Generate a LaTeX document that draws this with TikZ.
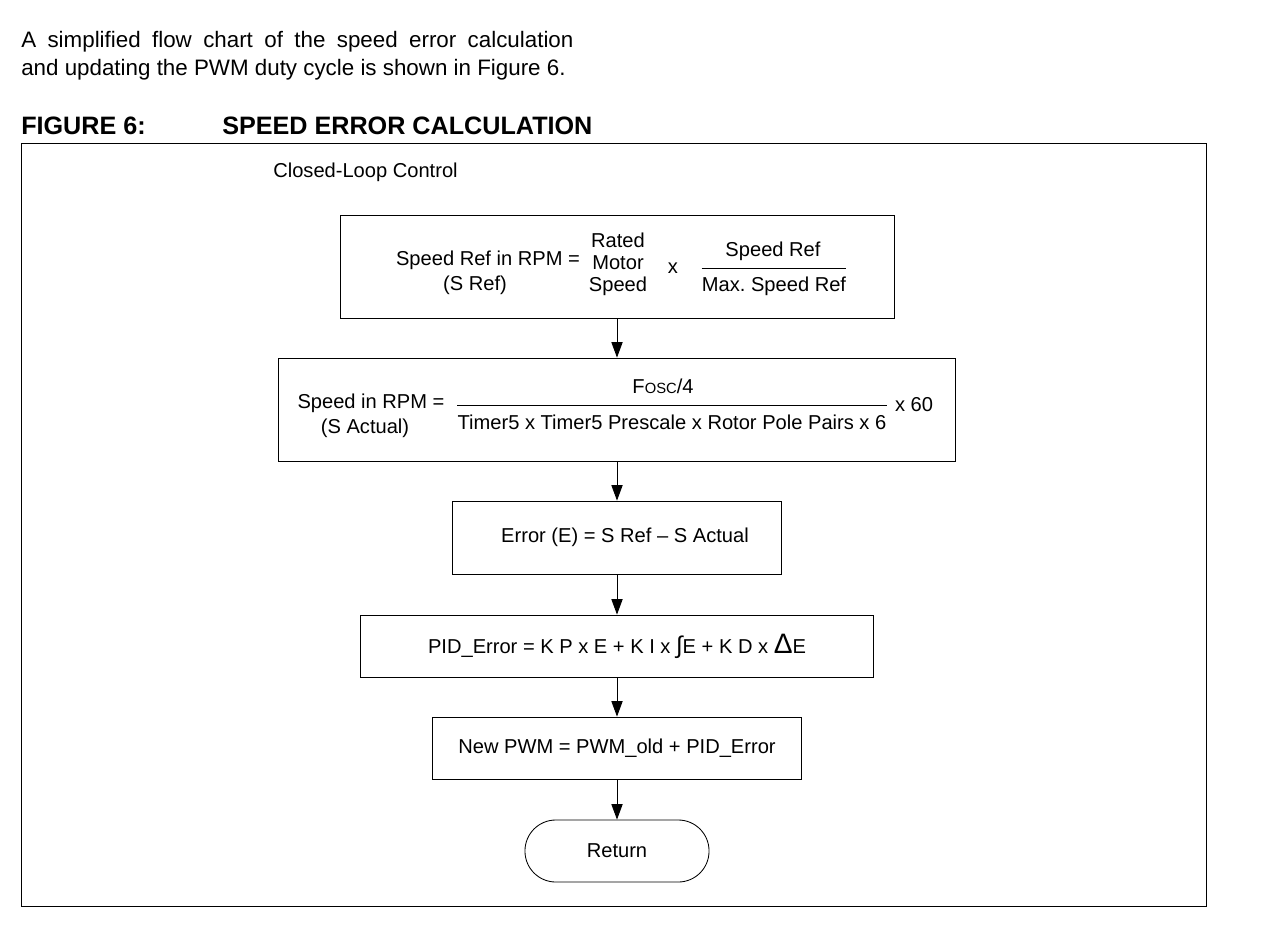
\documentclass[tikz,border=0pt]{standalone}
\usepackage{fontspec}
\setmainfont{Liberation Sans}
\usetikzlibrary{arrows.meta, positioning}
\frenchspacing

\begin{document}
\begin{tikzpicture}
[x = 0.025cm, y = -0.025cm, font = \fontsize{14.3}{17}\selectfont,
 box/.style = {rectangle, draw=black, line width=0.6pt, fill=white},
 txt/.style = {inner sep=0pt},
 >={Triangle[length=11pt, width=8pt]}]
\useasboundingbox (0,0) rectangle (1280,940);

\node[txt, anchor=north west, text width=13.8cm, align=justify, font=\fontsize{15.9}{19.9}\selectfont] (intro) at (21,31) {A simplified flow chart of the speed error calculation\linebreak and updating the PWM duty cycle is shown in Figure 6.};
\node[txt, anchor=base west, font=\fontsize{17.9}{20}\selectfont\bfseries] (fig) at (21,134) {FIGURE 6:};
\node[txt, anchor=base west, font=\fontsize{17.9}{20}\selectfont\bfseries] (title) at (222,134) {SPEED ERROR CALCULATION};
\draw[line width=0.6pt] (21,143) rectangle (1206,906);
\node[txt, anchor=base west] (loop) at (273,177) {Closed-Loop Control};

\node[box, minimum width=13.85cm, minimum height=2.575cm] (n1) at (617,266.5) {};
\node[box, minimum width=16.9cm, minimum height=2.575cm] (n2) at (617,409.5) {};
\node[box, minimum width=8.225cm, minimum height=1.825cm] (n3) at (617,537.5) {\hspace{0.4cm}Error (E) = S Ref – S Actual};
\node[box, minimum width=12.825cm, minimum height=1.55cm] (n4) at (617,646) {PID\_Error = K P x E + K I x {\fontsize{17}{17}\selectfont ∫}E + K D x {\fontsize{20}{20}\selectfont Δ}E};
\node[box, minimum width=9.225cm, minimum height=1.55cm] (n5) at (617,748) {New PWM = PWM\_old + PID\_Error};
\node[box, rounded corners=0.77cm, minimum width=4.6cm, minimum height=1.55cm] (n6) at (617,851) {Return};

% speed reference
\node[txt] (t1) at (488,260) {Speed Ref in RPM =};
\node[txt] (t2) at (475,285) {(S Ref)};
\node[txt, align=center, font=\fontsize{14.3}{15.6}\selectfont] (t3) at (618,264) {Rated\\Motor\\Speed};
\node[txt] (t4) at (673,268) {x};
\node[txt] (t5) at (773,251) {Speed Ref};
\node[txt] (t6) at (774,286) {Max. Speed Ref};
\coordinate (bar1) at (0,268);
\draw[line width=0.6pt] (t6.west |- bar1) -- (t6.east |- bar1);

% actual speed
\node[txt] (t7) at (371,403) {Speed in RPM =};
\node[txt] (t8) at (365,428) {(S Actual)};
\node[txt] (t9) at (663,386) {F{\fontsize{10.5}{12}\selectfont OSC}/4};
\node[txt] (t10) at (672,422) {Timer5 x Timer5 Prescale x Rotor Pole Pairs x 6};
\node[txt] (t11) at (914,405) {x 60};
\coordinate (bar2) at (0,405);
\draw[line width=0.6pt] (t10.west |- bar2) -- (t10.east |- bar2);

\draw[->, line width=0.6pt] (n1) edge (n2) (n2) edge (n3) (n3) edge (n4) (n4) edge (n5) (n5) edge (n6);

\end{tikzpicture}
\end{document}
